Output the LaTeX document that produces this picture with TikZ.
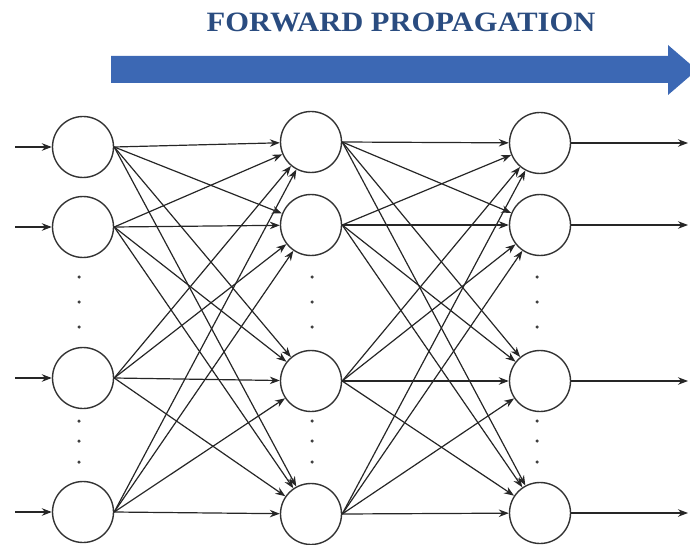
\documentclass[tikz,border=0pt]{standalone}
\usepackage{fontspec}
\setmainfont{Liberation Serif}
\usetikzlibrary{arrows.meta}
\definecolor{arrowblue}{HTML}{3C68B4}
\definecolor{titleblue}{HTML}{2A4C80}
\tikzset{
  neuron/.style={circle, draw=black!80, line width=1.4pt, minimum size=61pt, inner sep=0pt, fill=white},
  conn/.style={draw=black!85, line width=1.2pt, -{Stealth[length=10pt,width=7.5pt]}},
  vdot/.style={fill=black!75, circle, inner sep=0pt, minimum size=3.5pt}
}
\begin{document}
\begin{tikzpicture}[x=1pt,y=-1pt]
\useasboundingbox (0,0) rectangle (690,545);
\begin{scope}
\clip (0,0) rectangle (690,545);
% title and big arrow
\node[text=titleblue, font=\fontsize{28}{30}\selectfont\bfseries] (title) at (401,22) {\scalebox{1.09}[1]{FORWARD PROPAGATION}};
\fill[arrowblue] (111,56) -- (668,56) -- (668,45) -- (697,70) -- (668,95) -- (668,83) -- (111,83) -- cycle;

% neurons
\foreach \i/\y in {1/147,2/227,3/378,4/512} \node[neuron] (a\i) at (83,\y) {};
\foreach \i/\y in {1/142,2/225,3/381,4/514} \node[neuron] (b\i) at (311,\y) {};
\foreach \i/\y in {1/143,2/225,3/381,4/513} \node[neuron] (c\i) at (540,\y) {};

% input and output arrows
\foreach \i/\y in {1/147,2/227,3/378,4/512} {
  \coordinate (in\i) at (15,\y);
  \draw[conn] (in\i) -- (a\i.west);
}
\foreach \i/\y in {1/143,2/225,3/381,4/513} {
  \coordinate (out\i) at (688,\y);
  \draw[conn] (c\i.east) -- (out\i);
}

% full connections
\foreach \i in {1,...,4} \foreach \j in {1,...,4} {
  \draw[conn] (a\i.east) -- (b\j);
  \draw[conn] (b\i.east) -- (c\j);
}

% vertical dots
\foreach \x/\n in {79/p,312/q,537/r} {
  \foreach \y/\k in {277/1,302/2,327/3,421/4,441/5,462/6} \node[vdot] (\n\k) at (\x,\y) {};
}
\end{scope}
\end{tikzpicture}
\end{document}
